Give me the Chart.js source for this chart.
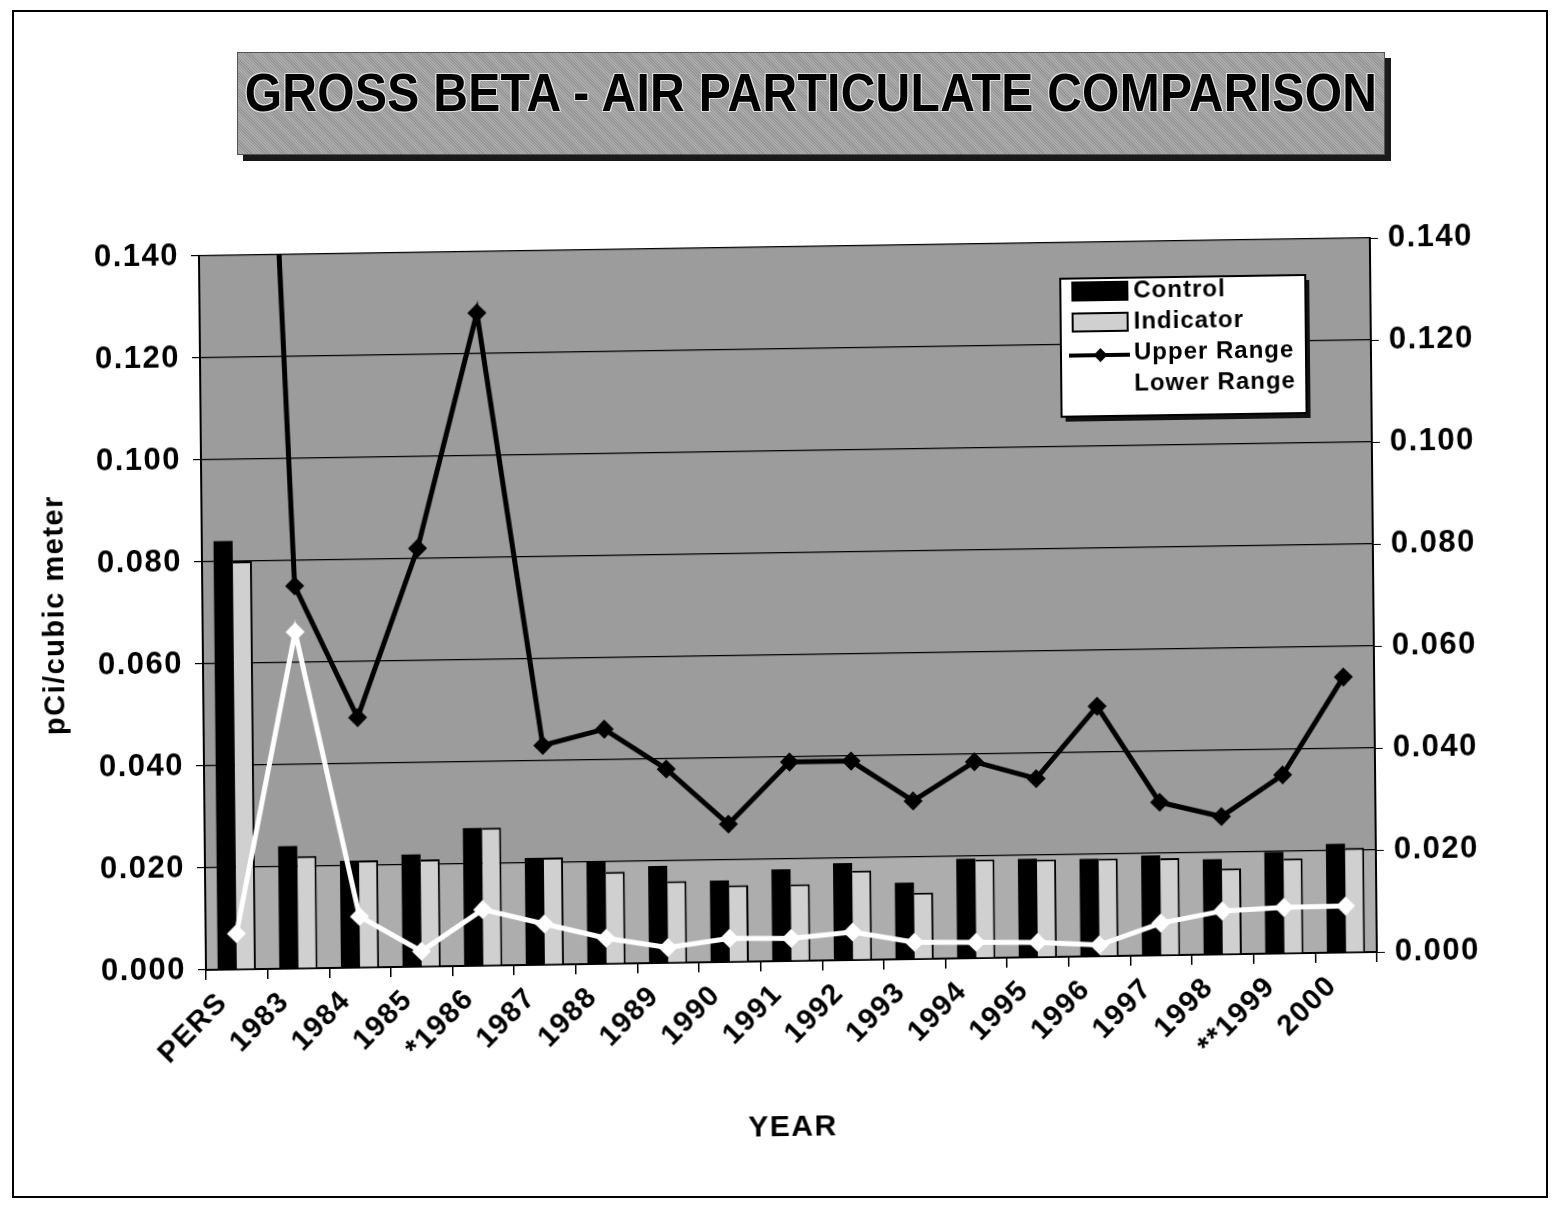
<!DOCTYPE html>
<html>
<head>
<meta charset="utf-8">
<script src="https://cdn.jsdelivr.net/npm/chart.js@4.4.0/dist/chart.umd.min.js"></script>
<style>
  html, body { margin: 0; padding: 0; background: #fff; }
  body { width: 1554px; height: 1206px; position: relative; overflow: hidden; font-family: "Liberation Sans", Arial, sans-serif; }
  #frame { position: absolute; left: 12px; top: 10px; width: 1536px; height: 1188px; border: 2px solid #000; box-sizing: border-box; }
  #titleBox {
    position: absolute; left: 237px; top: 52px; width: 1148px; height: 103px;
    background-color: #a3a3a3;
    background-image: repeating-linear-gradient(45deg, rgba(255,255,255,0.10) 0 1px, rgba(0,0,0,0.08) 1px 2px);
    box-shadow: 6px 6px 0 #1a1a1a;
    border: 1px solid #555; box-sizing: border-box;
    display: flex; align-items: center; justify-content: center; padding-bottom: 22px;
  }
  #titleBox span {
    font-family: "Liberation Sans", Arial, sans-serif; font-weight: bold; font-size: 48px; color: #000;
    display: inline-block; transform: scaleY(1.12); letter-spacing: 0.3px;
    text-shadow: 1px 1px 0 #e0e0e0, -1px -1px 0 #e0e0e0, 1px -1px 0 #e0e0e0, -1px 1px 0 #e0e0e0;
    white-space: nowrap;
  }
  #wrap { position: absolute; left: 0; top: 0; width: 1554px; height: 1206px;
    transform-origin: 790px 961px; transform: matrix(1, -0.0153, 0.0098, 1, 0, 0); }
  canvas { display: block; }
</style>
</head>
<body>
<div id="frame"></div>
<div id="wrap"><canvas id="c" width="1554" height="1206"></canvas></div>
<div id="titleBox"><span>GROSS BETA - AIR PARTICULATE COMPARISON</span></div>
<script>
const categories = ['PERS','1983','1984','1985','*1986','1987','1988','1989','1990','1991','1992','1993','1994','1995','1996','1997','1998','**1999','2000'];
const controlValues   = [0.084, 0.024, 0.021, 0.022, 0.027, 0.021, 0.020, 0.019, 0.016, 0.018, 0.019, 0.015, 0.0195, 0.0193, 0.0191, 0.0196, 0.0187, 0.0199, 0.0213];
const indicatorValues = [0.080, 0.022, 0.021, 0.021, 0.027, 0.021, 0.018, 0.016, 0.015, 0.015, 0.0175, 0.013, 0.0193, 0.0191, 0.0191, 0.0190, 0.0168, 0.0186, 0.0205];
const upperRange      = [0.400, 0.075, 0.049, 0.082, 0.128, 0.043, 0.046, 0.038, 0.027, 0.039, 0.039, 0.031, 0.0385, 0.035, 0.049, 0.030, 0.027, 0.035, 0.054];
const lowerRange      = [0.007, 0.066, 0.010, 0.003, 0.011, 0.008, 0.005, 0.003, 0.0046, 0.0044, 0.0055, 0.0033, 0.0031, 0.0029, 0.0022, 0.0063, 0.0085, 0.0090, 0.0091];
const yTicks = [0, 0.02, 0.04, 0.06, 0.08, 0.10, 0.12, 0.14];
const seriesNames = ['Control', 'Indicator', 'Upper Range', 'Lower Range'];

const FONT = '"Liberation Sans", Arial, sans-serif';
Chart.defaults.color = '#000';
Chart.defaults.font.family = FONT;
Chart.defaults.font.weight = 'bold';

const bgPlugin = {
  id: 'plotBg',
  beforeDraw(chart) {
    const {ctx, chartArea: a, scales} = chart;
    ctx.letterSpacing = '1.5px';
    ctx.save();
    ctx.fillStyle = '#9c9c9c';
    ctx.fillRect(a.left, a.top, a.right - a.left, a.bottom - a.top);
    const yb = scales.y.getPixelForValue(0.02);
    ctx.fillStyle = '#adadad';
    ctx.fillRect(a.left, yb, a.right - a.left, a.bottom - yb);
    ctx.restore();
  }
};

const legendPlugin = {
  id: 'boxLegend',
  afterDraw(chart) {
    const ctx = chart.ctx;
    const L = 1067, T = 283, W = 245, H = 138;
    ctx.save();
    ctx.letterSpacing = '1px';
    ctx.fillStyle = '#111';
    ctx.fillRect(L + 4, T + 5, W, H);
    ctx.fillStyle = '#fff';
    ctx.fillRect(L, T, W, H);
    ctx.strokeStyle = '#000';
    ctx.lineWidth = 2;
    ctx.strokeRect(L, T, W, H);
    ctx.font = 'bold 24px ' + FONT;
    ctx.textBaseline = 'middle';
    ctx.textAlign = 'left';
    chart.data.datasets.forEach((ds, i) => {
      const cy = T + 13 + i * 31;
      const sx = L + 12, sw = 55;
      if (ds.type === 'bar') {
        ctx.fillStyle = ds.backgroundColor;
        ctx.fillRect(sx, cy - 9, sw, 18);
        ctx.strokeStyle = '#000';
        ctx.lineWidth = 2;
        ctx.strokeRect(sx, cy - 9, sw, 18);
      } else {
        ctx.strokeStyle = ds.borderColor;
        ctx.lineWidth = 4;
        ctx.beginPath();
        ctx.moveTo(sx - 4, cy + 2);
        ctx.lineTo(sx + sw + 2, cy + 2);
        ctx.stroke();
        ctx.fillStyle = ds.pointBackgroundColor;
        ctx.beginPath();
        const mx = sx + sw / 2, my = cy + 2, r = 7;
        ctx.moveTo(mx, my - r); ctx.lineTo(mx + r, my); ctx.lineTo(mx, my + r); ctx.lineTo(mx - r, my);
        ctx.closePath();
        ctx.fill();
      }
      ctx.fillStyle = '#000';
      ctx.fillText(ds.label, L + 73, cy);
    });
    ctx.restore();
  }
};

const yTickCb = (v) => Number(v).toFixed(3);

new Chart(document.getElementById('c'), {
  data: {
    labels: categories,
    datasets: [
      { type: 'bar', label: seriesNames[0], data: controlValues, backgroundColor: '#000000',
        borderWidth: 0, order: 2, yAxisID: 'y', barPercentage: 1.0, categoryPercentage: 0.62 },
      { type: 'bar', label: seriesNames[1], data: indicatorValues, backgroundColor: '#d0d0d0',
        borderColor: '#000', borderWidth: {top: 2, right: 2, left: 0, bottom: 0}, borderSkipped: false,
        order: 2, yAxisID: 'y', barPercentage: 1.0, categoryPercentage: 0.62 },
      { type: 'line', label: seriesNames[2], data: upperRange, borderColor: '#000', borderWidth: 5,
        pointStyle: 'rectRot', pointRadius: 6, pointBackgroundColor: '#000', pointBorderColor: '#000',
        tension: 0, order: 0, yAxisID: 'y' },
      { type: 'line', label: seriesNames[3], data: lowerRange, borderColor: '#fff', borderWidth: 5,
        pointStyle: 'rectRot', pointRadius: 6, pointBackgroundColor: '#fff', pointBorderColor: '#fff',
        tension: 0, order: 1, yAxisID: 'y' }
    ]
  },
  options: {
    responsive: false,
    animation: false,
    devicePixelRatio: 1,
    layout: { padding: { top: 247, left: 0, right: 0, bottom: 0 } },
    plugins: { legend: { display: false }, title: { display: false }, tooltip: { enabled: false } },
    scales: {
      x: {
        offset: true,
        grid: { offset: true, drawOnChartArea: false, color: '#000', tickLength: 10, lineWidth: 1.5 },
        border: { color: '#000', width: 2 },
        ticks: { autoSkip: false, maxRotation: 45, minRotation: 45, padding: 6, labelOffset: -14, font: { size: 29, weight: 'bold' } },
        title: { display: true, text: 'YEAR', font: { size: 30, weight: 'bold' }, padding: { top: 0, bottom: 60 } },
        afterFit(s) { s.height = 245; }
      },
      y: {
        position: 'left', min: 0, max: 0.14,
        afterBuildTicks(s) { s.ticks = yTicks.map(v => ({ value: v })); },
        grid: { color: '#000', lineWidth: 1.2, tickLength: 8 },
        border: { color: '#000', width: 2 },
        ticks: { callback: yTickCb, padding: 12, font: { size: 31, weight: 'bold' } },
        title: { display: true, text: 'pCi/cubic meter', font: { size: 29, weight: 'bold' }, padding: { top: 42, bottom: 0 } },
        afterFit(s) { s.width = 206; }
      },
      y2: {
        position: 'right', min: 0, max: 0.14,
        afterBuildTicks(s) { s.ticks = yTicks.map(v => ({ value: v })); },
        grid: { drawOnChartArea: false, color: '#000', tickLength: 8 },
        border: { color: '#000', width: 2 },
        ticks: { callback: yTickCb, padding: 10, font: { size: 31, weight: 'bold' } },
        afterFit(s) { s.width = 1554 - 1377; }
      }
    }
  },
  plugins: [bgPlugin, legendPlugin]
});
</script>
</body>
</html>
